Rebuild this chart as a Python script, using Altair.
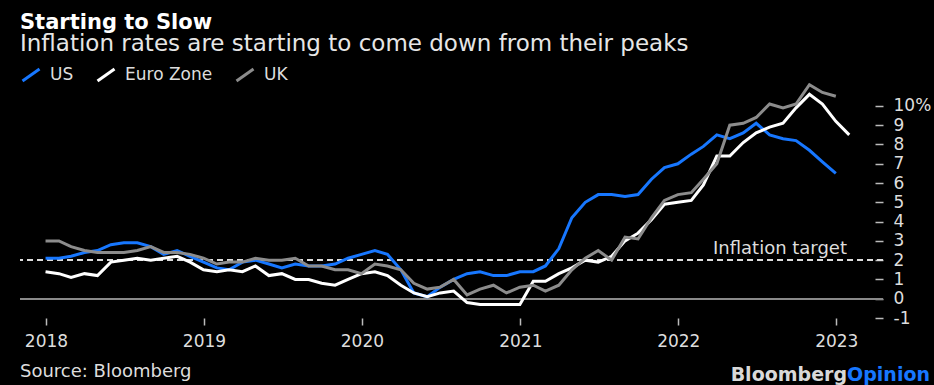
import altair as alt
import pandas as pd

FONT = "DejaVu Sans"

series_names = ["US", "Euro Zone", "UK"]
series_colors = ["#1777FF", "#FFFFFF", "#8C8C8C"]

# Month-end observations (year-over-year CPI, %)
us_start = "2017-12-31"
us_values = [2.1,
             2.1, 2.2, 2.4, 2.5, 2.8, 2.9, 2.9, 2.7, 2.3, 2.5, 2.2, 1.9,
             1.6, 1.5, 1.9, 2.0, 1.8, 1.6, 1.8, 1.7, 1.7, 1.8, 2.1, 2.3,
             2.5, 2.3, 1.5, 0.3, 0.1, 0.6, 1.0, 1.3, 1.4, 1.2, 1.2, 1.4,
             1.4, 1.7, 2.6, 4.2, 5.0, 5.4, 5.4, 5.3, 5.4, 6.2, 6.8, 7.0,
             7.5, 7.9, 8.5, 8.3, 8.6, 9.1, 8.5, 8.3, 8.2, 7.7, 7.1, 6.5]

ez_start = "2017-12-31"
ez_values = [1.4,
             1.3, 1.1, 1.3, 1.2, 1.9, 2.0, 2.1, 2.0, 2.1, 2.2, 1.9, 1.5,
             1.4, 1.5, 1.4, 1.7, 1.2, 1.3, 1.0, 1.0, 0.8, 0.7, 1.0, 1.3,
             1.4, 1.2, 0.7, 0.3, 0.1, 0.3, 0.4, -0.2, -0.3, -0.3, -0.3, -0.3,
             0.9, 0.9, 1.3, 1.6, 2.0, 1.9, 2.2, 3.0, 3.4, 4.1, 4.9, 5.0,
             5.1, 5.9, 7.4, 7.4, 8.1, 8.6, 8.9, 9.1, 9.9, 10.6, 10.1, 9.2,
             8.5]

uk_start = "2017-12-31"
uk_values = [3.0,
             3.0, 2.7, 2.5, 2.4, 2.4, 2.4, 2.5, 2.7, 2.4, 2.4, 2.3, 2.1,
             1.8, 1.9, 1.9, 2.1, 2.0, 2.0, 2.1, 1.7, 1.7, 1.5, 1.5, 1.3,
             1.8, 1.7, 1.5, 0.8, 0.5, 0.6, 1.0, 0.2, 0.5, 0.7, 0.3, 0.6,
             0.7, 0.4, 0.7, 1.5, 2.1, 2.5, 2.0, 3.2, 3.1, 4.2, 5.1, 5.4,
             5.5, 6.2, 7.0, 9.0, 9.1, 9.4, 10.1, 9.9, 10.1, 11.1, 10.7, 10.5]

year_ticks = [2018, 2019, 2020, 2021, 2022, 2023]
y_ticks = [-1, 0, 1, 2, 3, 4, 5, 6, 7, 8, 9, 10]
target_value = 2


def frame(name, start, values):
    dates = pd.date_range(start, periods=len(values), freq="ME").strftime("%Y-%m-%d")
    return pd.DataFrame({"date": dates, "value": values, "series": name})


df = pd.concat([
    frame("US", us_start, us_values),
    frame("Euro Zone", ez_start, ez_values),
    frame("UK", uk_start, uk_values),
], ignore_index=True)

x_scale = alt.Scale(domain=[alt.DateTime(year=2017, month=11, date=2),
                            alt.DateTime(year=2023, month=4, date=19)])
y_scale = alt.Scale(domain=[-1, 11.5], nice=False, zero=False)
color_scale = alt.Scale(domain=series_names, range=series_colors)

x_axis = alt.Axis(values=[alt.DateTime(year=y, month=1, date=1) for y in year_ticks],
                  format="%Y", title=None, domain=False, grid=False, tickCount=len(year_ticks),
                  tickSize=7, tickColor="#bbbbbb", tickWidth=1.5,
                  labelFont=FONT, labelFontSize=17, labelColor="#dddddd",
                  labelPadding=8)
y_axis = alt.Axis(orient="right", values=y_ticks, title=None, domain=False, grid=False,
                  tickCount=len(y_ticks),
                  tickSize=8, tickColor="#bbbbbb", tickWidth=1.5, offset=-8,
                  labelExpr="datum.value == 10 ? '10%' : '' + datum.value",
                  labelFont=FONT, labelFontSize=17, labelColor="#dddddd",
                  labelPadding=10, labelOverlap=False, labelBound=False, labelFlush=False)

legend = alt.Legend(orient="none", legendX=1, legendY=-12, direction="horizontal",
                    title=None, symbolType="M-1,0.7L1,-0.7", symbolSize=289,
                    symbolStrokeWidth=3, labelFont=FONT, labelFontSize=17,
                    labelColor="#dddddd", columnPadding=17, labelOffset=9, padding=0)

base = alt.Chart(df)

zero_rule = base.mark_rule(color="#8a8a8a", strokeWidth=1.5).encode(
    y=alt.datum(0, scale=y_scale))
target_rule = base.mark_rule(color="#dddddd", strokeWidth=1.5, strokeDash=[6, 4]).encode(
    y=alt.datum(target_value, scale=y_scale))

lines = []
for name in series_names:
    lines.append(
        base.transform_filter(alt.datum.series == name).mark_line(strokeWidth=3).encode(
            x=alt.X("date:T", scale=x_scale, axis=x_axis),
            y=alt.Y("value:Q", scale=y_scale, axis=y_axis),
            color=alt.Color("series:N", scale=color_scale, legend=legend),
        )
    )

one = alt.Chart(pd.DataFrame({"k": [0]}))
target_label = one.mark_text(text="Inflation target", align="right", baseline="alphabetic",
                             font=FONT, fontSize=18, color="#dddddd", dy=-6).encode(
    x=alt.value(827), y=alt.datum(target_value, scale=y_scale))
source = one.mark_text(text="Source: Bloomberg", align="left", baseline="alphabetic",
                       font=FONT, fontSize=18, color="#dddddd").encode(
    x=alt.value(0), y=alt.value(300))
logo1 = one.mark_text(text="Bloomberg", align="right", baseline="alphabetic",
                      font=FONT, fontSize=19, fontWeight="bold", color="#d9d9d9").encode(
    x=alt.value(827), y=alt.value(304))
logo2 = one.mark_text(text="Opinion", align="right", baseline="alphabetic",
                      font=FONT, fontSize=19, fontWeight="bold", color="#1777FF").encode(
    x=alt.value(910), y=alt.value(304))

chart = alt.layer(
    zero_rule, target_rule, *lines, target_label, source, logo1, logo2
).properties(
    width=863, height=241,
    padding={"left": 20, "top": 77, "right": 51, "bottom": 67},
    autosize=alt.AutoSizeParams(type="none"),
    background="#000000",
    title=alt.TitleParams(
        text="Starting to Slow",
        subtitle="Inflation rates are starting to come down from their peaks",
        anchor="start", frame="group", orient="top",
        font=FONT, fontSize=21, fontWeight="bold", color="#ffffff",
        subtitleFont=FONT, subtitleFontSize=23, subtitleColor="#e6e6e6",
        subtitlePadding=0, offset=9,
    ),
).configure_view(stroke=None)

chart.save("out.html", embed_options={"renderer": "svg", "actions": False})
